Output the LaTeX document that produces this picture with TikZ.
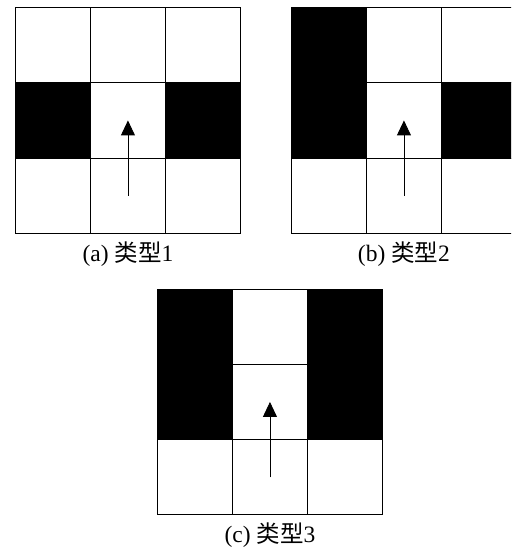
\documentclass[tikz,border=0pt]{standalone}
\usepackage{fontspec}
\setmainfont{Liberation Serif}
\newfontfamily\cjk{Noto Sans CJK SC}
\usetikzlibrary{arrows.meta, positioning}

\begin{document}
\begin{tikzpicture}[
  x=1pt, y=-1pt,
  cell/.style={draw, rectangle, minimum size=75.3pt, inner sep=0pt, outer sep=0pt, line width=0.9pt},
  subcap/.style={font=\fontsize{23.5}{27}\selectfont, inner sep=0pt},
  >={Triangle[width=14pt,length=15pt]}
]
  \clip (0,0) rectangle (511,556);
  \fill[white] (0,0) rectangle (511,556);

  % three 3x3 grids
  \foreach \r in {1,2,3} {
    \foreach \c in {1,2,3} {
      \node[cell] (a\r\c) at ({15+75.3*(\c-0.5)},{7.5+75.3*(\r-0.5)}) {};
      \node[cell] (b\r\c) at ({291+75.3*(\c-0.5)},{7.5+75.3*(\r-0.5)}) {};
      \node[cell] (c\r\c) at ({157+75.3*(\c-0.5)},{289+75.3*(\r-0.5)}) {};
    }
  }

  % blocked cells
  \fill (a21.north west) rectangle (a21.south east);
  \fill (a23.north west) rectangle (a23.south east);
  \fill (b11.north west) rectangle (b21.south east);
  \fill (b23.north west) rectangle (b23.south east);
  \fill (c11.north west) rectangle (c21.south east);
  \fill (c13.north west) rectangle (c23.south east);

  % heading
  \draw[->, line width=0.9pt] (a32.center) -- (a22.center);
  \draw[->, line width=0.9pt] (b32.center) -- (b22.center);
  \draw[->, line width=0.9pt] (c32.center) -- (c22.center);

  % captions
  \node[subcap, below=8pt of a32] (capa) {(a) {\cjk 类型}1};
  \node[subcap, below=8pt of b32] (capb) {(b) {\cjk 类型}2};
  \node[subcap, below=8pt of c32] (capc) {(c) {\cjk 类型}3};
\end{tikzpicture}
\end{document}
